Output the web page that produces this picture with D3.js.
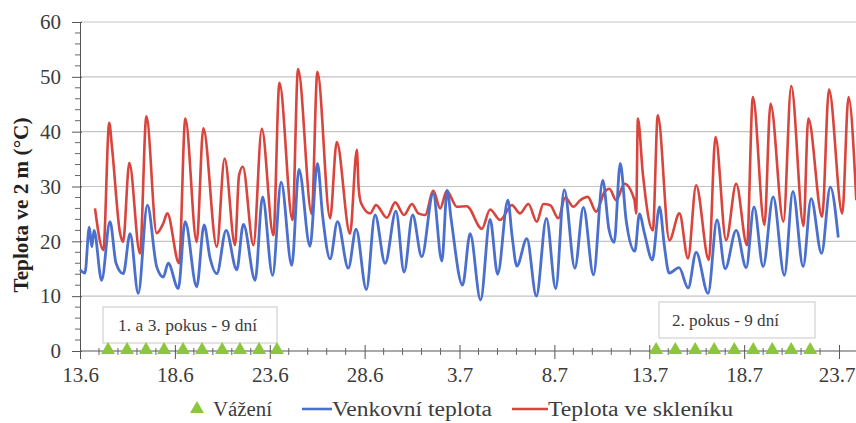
<!DOCTYPE html>
<html lang="cs">
<head>
<meta charset="UTF-8">
<title>Teplota ve 2 m</title>
<script src="https://d3js.org/d3.v7.min.js"></script>
<style>
  body { margin: 0; background: #fff; }
  svg text { font-family: "Liberation Serif", "DejaVu Serif", serif; fill: #3c3c3c; }
</style>
</head>
<body>
<div id="chart"></div>
<script>
// days since 13.6 (0 = 13.6 00:00)
const tickDays = [0, 5, 10, 15, 20, 25, 30, 35, 40];
const tickLabels = ["13.6", "18.6", "23.6", "28.6", "3.7", "8.7", "13.7", "18.7", "23.7"];
const yTicks = [0, 10, 20, 30, 40, 50, 60];

// Teplota ve skleníku [day, °C]
const sklenik = [
  [0.79, 26.0], [1.23, 18.4], [1.54, 41.6], [1.69, 37.0], [2.11, 21.5], [2.27, 19.9],
  [2.60, 34.3], [3.16, 17.8], [3.50, 42.8], [4.04, 21.5], [4.39, 23.3], [4.60, 25.1],
  [5.22, 16.0], [5.55, 42.4], [6.15, 19.9], [6.50, 40.6], [7.21, 19.0], [7.62, 35.1],
  [8.17, 19.3], [8.38, 32.0], [8.58, 33.6], [9.14, 19.3], [9.58, 40.5], [10.19, 21.1],
  [10.51, 48.9], [11.20, 23.9], [11.49, 51.4], [12.21, 25.0], [12.51, 50.9], [13.18, 24.2],
  [13.53, 38.1], [14.23, 21.4], [14.59, 36.7], [14.68, 30.0], [14.81, 27.0], [15.29, 25.1],
  [15.60, 26.6], [16.17, 24.3], [16.61, 27.1], [17.08, 24.8], [17.49, 26.8], [17.83, 25.1],
  [18.19, 24.8], [18.62, 29.2], [18.98, 26.0], [19.33, 29.2], [19.86, 26.3], [20.38, 26.4],
  [21.18, 22.3], [21.61, 25.8], [22.14, 23.9], [22.76, 26.6], [23.19, 25.1], [23.63, 26.8],
  [24.07, 23.6], [24.42, 26.8], [24.78, 26.6], [25.21, 24.2], [25.57, 28.0], [26.00, 26.3],
  [26.36, 27.5], [26.76, 28.1], [27.20, 25.4], [27.64, 29.0], [27.90, 29.6], [28.26, 27.5],
  [28.69, 30.5], [29.22, 27.5], [29.31, 25.1], [29.40, 42.4], [29.66, 32.4], [30.19, 22.0],
  [30.45, 43.0], [31.06, 20.2], [31.59, 25.1], [32.04, 16.9], [32.47, 30.2], [33.14, 16.6],
  [33.49, 39.0], [34.05, 20.2], [34.58, 30.5], [35.15, 19.3], [35.46, 46.3], [36.07, 23.0],
  [36.39, 45.1], [37.07, 23.6], [37.48, 48.3], [38.13, 22.8], [38.38, 42.4], [39.11, 24.5],
  [39.47, 47.7], [40.17, 25.1], [40.50, 46.3], [40.91, 27.5]
];

// Venkovní teplota [day, °C]
const venkovni = [
  [0.00, 14.8], [0.26, 14.2], [0.49, 22.6], [0.62, 19.0], [0.74, 22.0], [1.14, 12.9],
  [1.58, 23.6], [1.90, 16.0], [2.28, 14.1], [2.64, 21.4], [3.07, 10.5], [3.55, 26.6],
  [4.04, 15.4], [4.39, 13.5], [4.65, 16.0], [5.18, 11.4], [5.54, 23.6], [6.15, 11.7],
  [6.54, 23.0], [6.85, 17.0], [7.21, 14.1], [7.70, 22.0], [8.26, 14.8], [8.61, 23.1],
  [9.23, 12.9], [9.62, 28.1], [10.15, 13.8], [10.60, 30.8], [11.16, 15.6], [11.54, 33.1],
  [12.12, 19.1], [12.51, 34.2], [12.79, 24.5], [13.18, 16.8], [13.57, 23.6], [14.14, 15.1],
  [14.55, 22.2], [15.09, 11.2], [15.55, 24.8], [16.08, 16.0], [16.65, 25.5], [17.08, 14.4],
  [17.53, 24.8], [18.01, 17.2], [18.61, 28.7], [19.07, 16.4], [19.35, 29.3], [19.56, 24.0],
  [20.16, 12.0], [20.56, 21.4], [21.11, 9.3], [21.61, 24.0], [22.01, 14.0], [22.55, 27.5],
  [22.77, 21.0], [23.02, 15.5], [23.55, 20.5], [24.05, 10.0], [24.58, 24.2], [25.07, 11.4],
  [25.52, 29.4], [26.08, 15.1], [26.53, 26.2], [27.06, 13.9], [27.55, 31.1], [27.87, 22.3],
  [28.15, 19.8], [28.47, 34.2], [28.78, 23.9], [29.24, 18.2], [29.48, 25.0], [29.75, 21.4],
  [30.16, 16.6], [30.54, 26.3], [30.80, 19.0], [31.05, 14.2], [31.57, 15.2], [32.05, 11.5],
  [32.47, 18.0], [33.10, 10.5], [33.57, 23.9], [34.00, 15.0], [34.58, 22.0], [35.11, 15.2],
  [35.52, 26.3], [36.00, 15.4], [36.53, 28.1], [37.12, 13.8], [37.57, 29.1], [38.11, 15.4],
  [38.53, 27.8], [39.08, 17.8], [39.54, 29.9], [39.96, 20.7]
];

// Vážení (weighing days)
const vazeni = [1.48, 2.48, 3.48, 4.43, 5.43, 6.43, 7.49, 8.43, 9.44, 10.38,
                30.36, 31.37, 32.42, 33.42, 34.48, 35.48, 36.48, 37.48, 38.48];

const W = 856, H = 423;
const serif = '"Liberation Serif", "DejaVu Serif", serif';
const svg = d3.select("#chart").append("svg")
    .attr("width", W).attr("height", H);

const x = d3.scaleLinear().domain([0, 41]).range([80, 858]);
const y = d3.scaleLinear().domain([0, 60]).range([351, 22]);

// grid
svg.append("g").selectAll("line")
    .data(yTicks.filter(d => d > 0))
    .enter().append("line")
    .attr("x1", x(0)).attr("x2", W)
    .attr("y1", d => y(d)).attr("y2", d => y(d))
    .attr("stroke", "#c4c4c4").attr("stroke-width", 1.2);

// y axis
const yAxis = svg.append("g")
    .attr("transform", "translate(" + x(0) + ",0)")
    .call(d3.axisLeft(y).tickValues(yTicks).tickSize(8).tickPadding(11));
yAxis.attr("font-family", serif);
yAxis.select(".domain").attr("stroke", "#555");
yAxis.selectAll(".tick line").attr("stroke", "#555").attr("x2", -8).attr("x1", 2);
yAxis.selectAll("text").style("font-size", "21px").attr("fill", "#3c3c3c");
svg.append("g").selectAll("line")
    .data(d3.range(2, 60, 2).filter(d => d % 10 !== 0))
    .enter().append("line")
    .attr("x1", x(0) - 5).attr("x2", x(0))
    .attr("y1", d => y(d)).attr("y2", d => y(d))
    .attr("stroke", "#666");

// x axis
const xAxis = svg.append("g")
    .attr("transform", "translate(0," + y(0) + ")")
    .call(d3.axisBottom(x).tickValues(tickDays)
        .tickFormat((d, i) => tickLabels[i]).tickSize(8).tickPadding(8));
xAxis.attr("font-family", serif);
xAxis.select(".domain").attr("stroke", "#555").attr("d", "M" + x(0) + ",0H" + W);
xAxis.selectAll(".tick line").attr("stroke", "#555").attr("y1", -6);
xAxis.selectAll("text").style("font-size", "21px").attr("fill", "#3c3c3c");
// last label sits against the right edge
xAxis.selectAll(".tick text").filter(d => d === 40)
    .attr("text-anchor", "end").attr("x", W - x(40) - 1);
svg.append("g").selectAll("line")
    .data(d3.range(1, 41).filter(d => d % 5 !== 0))
    .enter().append("line")
    .attr("x1", d => x(d)).attr("x2", d => x(d))
    .attr("y1", y(0) - 3).attr("y2", y(0) + 4)
    .attr("stroke", "#666");

// y label
svg.append("text")
    .attr("transform", "translate(28,205) rotate(-90)")
    .attr("text-anchor", "middle")
    .attr("textLength", 175).attr("lengthAdjust", "spacingAndGlyphs")
    .style("font-size", "21px").style("font-weight", "bold")
    .style("fill", "#222")
    .text("Teplota ve 2 m (°C)");

// text boxes
function box(x0, y0, w, h, tx, tw, label) {
    svg.append("rect").attr("x", x0).attr("y", y0).attr("width", w).attr("height", h)
        .attr("fill", "#fff").attr("stroke", "#c8c8c8");
    svg.append("text").attr("x", tx).attr("y", y0 + h / 2 + 6)
        .attr("textLength", tw).attr("lengthAdjust", "spacingAndGlyphs")
        .style("font-size", "17px").text(label);
}
box(103, 307, 174, 36, 118, 139, "1. a 3.  pokus - 9 dní");
box(659, 302, 156, 36, 672, 107, "2. pokus - 9 dní");

// lines
const line = d3.line()
    .x(d => x(d[0])).y(d => y(d[1]))
    .curve(d3.curveMonotoneX);

svg.append("path").datum(sklenik)
    .attr("d", line).attr("fill", "none")
    .attr("stroke", "#d9443d").attr("stroke-width", 2.6)
    .attr("stroke-linejoin", "round");

svg.append("path").datum(venkovni)
    .attr("d", line).attr("fill", "none")
    .attr("stroke", "#4a6fcc").attr("stroke-width", 2.8)
    .attr("stroke-linejoin", "round");

// weighing markers
const tri = d3.symbol().type(d3.symbolTriangle).size(85);
svg.append("g").selectAll("path")
    .data(vazeni)
    .enter().append("path")
    .attr("d", tri)
    .attr("transform", d => "translate(" + x(d) + "," + (y(0) - 1) + ")")
    .attr("fill", "#8cc63f");

// legend
const ly = 409;
function legendText(x0, w, label) {
    svg.append("text").attr("x", x0).attr("y", ly + 7)
        .attr("textLength", w).attr("lengthAdjust", "spacingAndGlyphs")
        .style("font-size", "20px").text(label);
}
svg.append("path").attr("d", tri).attr("fill", "#8cc63f")
    .attr("transform", "translate(197," + ly + ")");
legendText(213, 59, "Vážení");
svg.append("line").attr("x1", 302).attr("x2", 332).attr("y1", ly).attr("y2", ly)
    .attr("stroke", "#4a6fcc").attr("stroke-width", 2.6);
legendText(332, 160, "Venkovní teplota");
svg.append("line").attr("x1", 512).attr("x2", 548).attr("y1", ly).attr("y2", ly)
    .attr("stroke", "#d9443d").attr("stroke-width", 2.6);
legendText(548, 185, "Teplota ve skleníku");
</script>
</body>
</html>
